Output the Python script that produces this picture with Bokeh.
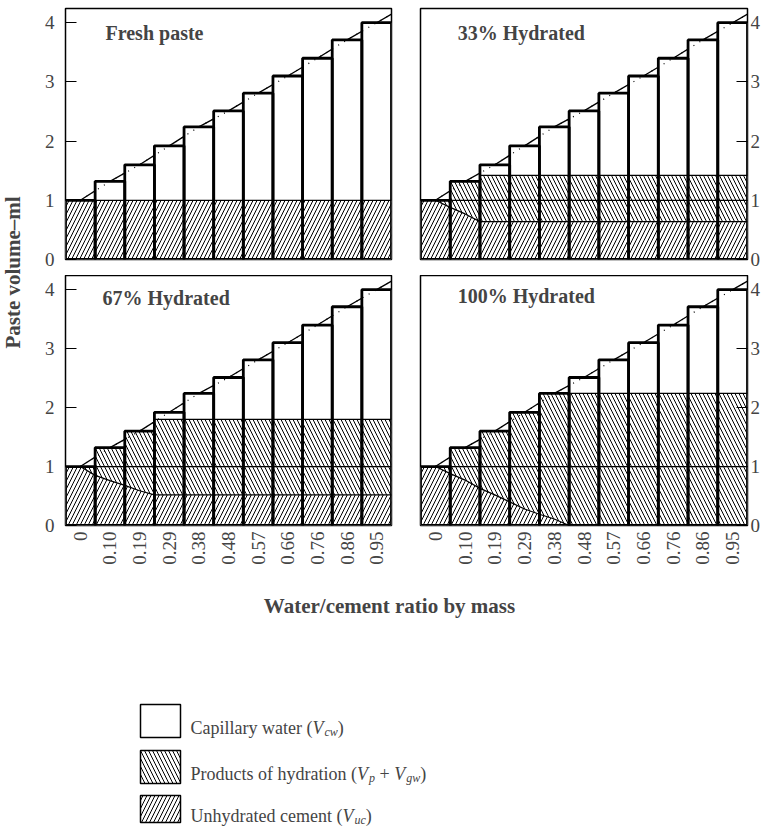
import numpy as np
from bokeh.plotting import figure
from bokeh.models import Range1d, Span, Label, FixedTicker
from bokeh.layouts import row, column
from bokeh.embed import file_html
from bokeh.resources import INLINE

# ---------------- data ----------------
wc_ratio = [0.0, 0.10, 0.19, 0.29, 0.38, 0.48, 0.57, 0.66, 0.76, 0.86, 0.95]
wc_labels = ["0", "0.10", "0.19", "0.29", "0.38", "0.48", "0.57", "0.66", "0.76", "0.86", "0.95"]
total_volume = [1.00, 1.32, 1.60, 1.92, 2.24, 2.51, 2.81, 3.10, 3.40, 3.71, 4.00]
initial_cement = 1.0
y_ticks = [0, 1, 2, 3, 4]

panel_titles = ["Fresh paste", "33% Hydrated", "67% Hydrated", "100% Hydrated"]

# unhydrated-cement boundary (read at w/c values) and top of hydration products
fresh_curve_wc = [0.0]
fresh_cement = [1.0]
h33_curve_wc = [0.0, 0.05, 0.10, 0.145]
h33_cement = [1.0, 0.88, 0.77, 0.64]
h33_products_top = 1.42
h67_curve_wc = [0.0, 0.05, 0.10, 0.145, 0.19, 0.24]
h67_cement = [1.0, 0.85, 0.76, 0.68, 0.59, 0.52]
h67_products_top = 1.80
h100_curve_wc = [0.0, 0.05, 0.10, 0.145, 0.19, 0.24, 0.29, 0.335, 0.38, 0.43]
h100_cement = [1.0, 0.88, 0.77, 0.63, 0.52, 0.40, 0.28, 0.19, 0.11, 0.0]
h100_products_top = 2.24

legend_names = ["Capillary water", "Products of hydration", "Unhydrated cement"]
x_title = "Water/cement ratio by mass"
y_title = "Paste volume\u2013ml"

# ---------------- styling ----------------
SERIF = "Liberation Serif"
CEMENT_HATCH = "/"
PRODUCT_HATCH = "\\"
HATCH_SCALE = 8
Y_MAX = 4.24


def make_panel(title, curve_wc, curve_vol, prod_top, side, bottom, title_pos):
    n = len(wc_ratio)
    idx = np.arange(n)
    if side == "left":
        width, bl, br = 367, 27, 14
    else:
        width, bl, br = 358, 15, 16
    if bottom:
        height, bt, bb = 320, 0, 70
    else:
        height, bt, bb = 275, 8, 16
    p = figure(width=width, height=height, x_range=Range1d(-0.5, n - 0.5),
               y_range=Range1d(0, Y_MAX), toolbar_location=None, output_backend="svg",
               y_axis_location=side, x_axis_location="below" if bottom else None,
               min_border_left=bl, min_border_right=br, min_border_top=bt,
               min_border_bottom=bb, background_fill_color="white",
               border_fill_color="white", outline_line_color="black",
               outline_line_width=1.5)
    p.grid.visible = False

    curve_x = np.interp(curve_wc, wc_ratio, idx)
    xs, S = [], []
    for i in idx:
        pts = [i - 0.5] + [c for c in curve_x if i - 0.5 < c < i + 0.5] + [i + 0.5]
        xs += pts
        S += [total_volume[i]] * len(pts)
    xs = np.array(xs, dtype=float)
    S = np.array(S)
    yc = np.interp(xs, curve_x, curve_vol)

    # total-volume line
    line_x = list(idx) + [n - 0.5]
    line_y = list(total_volume) + [total_volume[-1] + 0.5 * (total_volume[-1] - total_volume[-2])]
    p.line(line_x, line_y, line_color="black", line_width=1.3)

    left = idx - 0.5
    right = idx + 0.5
    p.quad(left=left, right=right, bottom=0, top=total_volume,
           fill_color="white", line_color=None)
    p.varea(x=xs, y1=0, y2=yc, fill_color="white", hatch_pattern=CEMENT_HATCH,
            hatch_color="black", hatch_scale=HATCH_SCALE, hatch_weight=1.0)
    if prod_top is not None:
        yp = np.minimum(S, prod_top)
        p.varea(x=xs, y1=yc, y2=yp, fill_color="white", hatch_pattern=PRODUCT_HATCH,
                hatch_color="black", hatch_scale=HATCH_SCALE, hatch_weight=1.0)
        p.line(xs, yp, line_color="black", line_width=1.2)
        p.line(xs, yc, line_color="black", line_width=1.2)
    p.add_layout(Span(location=initial_cement, dimension="width",
                      line_color="black", line_width=1.3))
    p.quad(left=left, right=right, bottom=0, top=total_volume,
           fill_color=None, line_color="black", line_width=2.8)
    p.line(line_x, line_y, line_color="black", line_width=1.2, line_dash="1 6")

    p.add_layout(Label(x=title_pos[0], y=title_pos[1], text=title,
                       text_font=SERIF, text_font_style="bold",
                       text_font_size="20px", text_baseline="middle"))

    ya = p.yaxis[0]
    ya.ticker = FixedTicker(ticks=y_ticks)
    ya.axis_line_color = None
    ya.major_tick_in = 11
    ya.major_tick_out = 0
    ya.minor_tick_line_color = None
    ya.major_label_text_font = SERIF
    ya.major_label_text_font_size = "19px"
    ya.major_label_standoff = 11 if side == "left" else 3
    if bottom:
        xa = p.xaxis[0]
        xa.ticker = FixedTicker(ticks=list(idx))
        xa.major_label_overrides = {int(i): lab for i, lab in zip(idx, wc_labels)}
        xa.major_label_orientation = np.pi / 2
        xa.axis_line_color = None
        xa.major_tick_in = 0
        xa.major_tick_out = 0
        xa.minor_tick_line_color = None
        xa.major_label_text_font = SERIF
        xa.major_label_text_font_size = "19px"
        xa.major_label_standoff = 6
    return p


tl = make_panel(panel_titles[0], fresh_curve_wc, fresh_cement, None, "left", False, (0.85, 3.82))
tr = make_panel(panel_titles[1], h33_curve_wc, h33_cement, h33_products_top, "right", False, (0.75, 3.83))
bl = make_panel(panel_titles[2], h67_curve_wc, h67_cement, h67_products_top, "left", True, (0.75, 3.85))
br = make_panel(panel_titles[3], h100_curve_wc, h100_cement, h100_products_top, "right", True, (0.75, 3.90))

# y title figure
LH = 595
lf = figure(width=38, height=LH, x_range=Range1d(0, 38), y_range=Range1d(LH, 0),
            toolbar_location=None, output_backend="svg", x_axis_location=None,
            y_axis_location=None, min_border=0, outline_line_color=None)
lf.grid.visible = False
lf.add_layout(Label(x=12, y=272, text=y_title, angle=np.pi / 2, text_align="center",
                    text_baseline="middle", text_font=SERIF, text_font_style="bold",
                    text_font_size="21px"))

# bottom figure: x title + legend
BW, BH = 763, 231
bf = figure(width=BW, height=BH, x_range=Range1d(0, BW), y_range=Range1d(BH, 0),
            toolbar_location=None, output_backend="svg", x_axis_location=None,
            y_axis_location=None, min_border=0, outline_line_color=None)
bf.grid.visible = False
bf.add_layout(Label(x=389, y=10, text=x_title, text_align="center", text_baseline="middle",
                    text_font=SERIF, text_font_style="bold", text_font_size="21px"))

REG = {" ": 250, "(": 333, ")": 333, "+": 564, "C": 667, "P": 556, "U": 722, "V": 722,
       "a": 444, "b": 500, "c": 444, "d": 500, "e": 444, "f": 333, "g": 500, "h": 500,
       "i": 278, "l": 278, "m": 778, "n": 500, "o": 500, "p": 500, "r": 333, "s": 389,
       "t": 278, "u": 500, "w": 722, "y": 500}
ITA = {"V": 611, "c": 444, "w": 667, "p": 500, "g": 500, "u": 500}


def tw(s, size, italic=False):
    tab = ITA if italic else REG
    return sum(tab.get(ch, 500) for ch in s) / 1000.0 * size


legend_runs = [
    [(legend_names[0] + " (", False, False), ("V", True, False), ("cw", True, True), (")", False, False)],
    [(legend_names[1] + " (", False, False), ("V", True, False), ("p", True, True),
     (" + ", False, False), ("V", True, False), ("gw", True, True), (")", False, False)],
    [(legend_names[2] + " (", False, False), ("V", True, False), ("uc", True, True), (")", False, False)],
]
box_tops = [109, 155, 200]
box_h = [33, 33, 27]
text_base = [132, 178, 220]
hatches = [None, PRODUCT_HATCH, CEMENT_HATCH]
FS = 18
for k in range(3):
    top = box_tops[k]
    bf.quad(left=[140], right=[180], top=[top], bottom=[top + box_h[k]],
            fill_color="white", line_color="black", line_width=1.5,
            hatch_pattern=hatches[k] if hatches[k] else " ",
            hatch_color="black", hatch_scale=HATCH_SCALE, hatch_weight=1.0)
    x = 190
    yb = text_base[k]
    for txt, ital, sub in legend_runs[k]:
        size = 12 if sub else FS
        lead = len(txt) - len(txt.lstrip(" "))
        x += tw(" " * lead, size, ital)
        body = txt.strip(" ")
        bf.add_layout(Label(x=x, y=yb + (4 if sub else 0), text=body, text_font=SERIF,
                            text_font_style="italic" if ital else "normal",
                            text_font_size=f"{size}px", text_baseline="alphabetic"))
        x += tw(txt.lstrip(" "), size, ital) + (1 if ital and not sub else 0)

grid = column(row(tl, tr), row(bl, br))
layout = column(row(lf, grid), bf)

open("out.html", "w").write(file_html(layout, INLINE))
